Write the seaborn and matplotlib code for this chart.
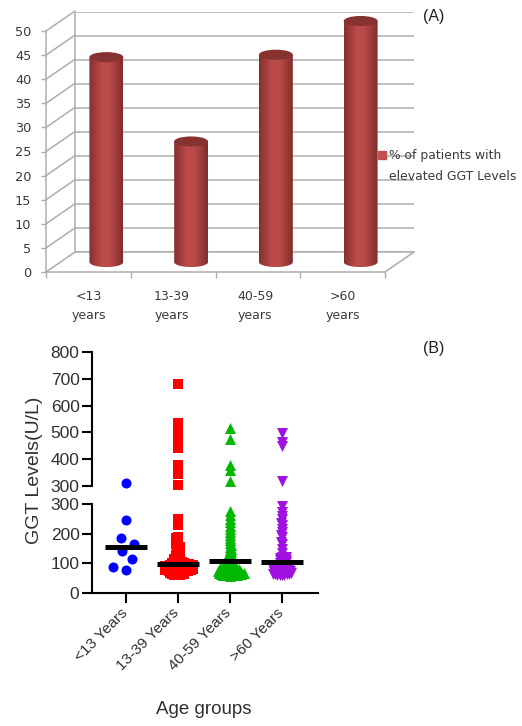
import numpy as np
import pandas as pd
import matplotlib
matplotlib.use("Agg")
import matplotlib.pyplot as plt
from matplotlib.collections import PathCollection
from matplotlib.colors import LinearSegmentedColormap, to_rgba
from matplotlib.lines import Line2D
from matplotlib.patches import Ellipse
from matplotlib.path import Path
from matplotlib.transforms import ScaledTranslation
import seaborn as sns

# ---------- data ----------
age_a = ["<13\nyears", "13-39\nyears", "40-59\nyears", ">60\nyears"]
pct_elevated = [42.5, 25, 43, 50]
age_b = ["<13 Years", "13-39 Years", "40-59 Years", ">60 Years"]
ggt_u13 = [312, 246, 185, 165, 143, 115, 88, 78]
ggt_13_39 = [60, 60, 61, 62, 63, 64, 65, 66, 67, 68, 69, 70, 71, 72, 72, 73, 74, 74, 75, 75, 76, 76,
             77, 77, 78, 78, 79, 79, 80, 80, 81, 81, 82, 82, 83, 83, 84, 84, 85, 85, 86, 86, 87, 87,
             88, 88, 89, 89, 90, 90, 91, 91, 92, 92, 93, 93, 94, 94, 95, 95, 96, 97, 97, 98, 99, 100,
             101, 102, 103, 104, 106, 108, 110, 112, 114, 116, 118, 120, 122, 125, 128, 130, 133,
             136, 140, 143, 146, 150, 153, 156, 160, 165, 170, 175, 180, 185, 190, 230, 250,
             305, 345, 365, 380, 440, 460, 480, 515, 535, 680]
ggt_40_59 = [58, 59, 60, 60, 61, 62, 62, 63, 64, 64, 65, 66, 66, 67, 68, 68, 69, 70, 70, 71, 72, 72,
             73, 74, 75, 75, 76, 77, 78, 79, 80, 80, 81, 82, 83, 84, 85, 86, 87, 88, 90, 92, 94, 96,
             98, 100, 102, 104, 106, 108, 110, 113, 116, 119, 122, 125, 130, 135, 140, 145, 150,
             155, 162, 170, 178, 186, 195, 205, 215, 225, 238, 250, 262, 277,
             319, 360, 378, 475, 516]
ggt_over60 = [60, 60, 61, 62, 63, 63, 64, 65, 66, 67, 68, 68, 69, 70, 71, 72, 73, 74, 75, 76, 77, 78,
              79, 80, 81, 82, 83, 84, 85, 86, 88, 90, 92, 94, 96, 98, 100, 102, 104, 106, 108, 110,
              112, 114, 116, 118, 120, 122, 135, 150, 165, 172, 190, 197, 205, 215, 228, 235, 250,
              258, 272, 294, 319, 449, 464, 497]
group_means = [155, 98, 108, 104]
group_values = [ggt_u13, ggt_13_39, ggt_40_59, ggt_over60]
group_colors = ["#0000ff", "#ff0000", "#00b800", "#a010e0"]
group_markers = ["o", "s", "^", "v"]
marker_areas = [52, 47, 62, 62]
swarm_sizes = [9, 1.5, 1.6, 1.6]

W, H = 522, 726
sns.set_theme(style="white")
plt.rcParams["font.family"] = ["Liberation Sans", "DejaVu Sans"]
fig = plt.figure(figsize=(W / 100, H / 100), dpi=100, facecolor="white")


def rect(x0, x1, y_top, y_bot):
    return [x0 / W, 1 - y_bot / H, (x1 - x0) / W, (y_bot - y_top) / H]


# ---------- panel A: fake 3D chart ----------
GRID = "#adadad"
TXT = "#3a3a3a"
cat = (385 - 46) / 4
unit = 241 / 50

back = fig.add_axes(rect(75, 414, 12, 252))
back.set_xlim(-.5, 3.5)
back.set_ylim(0, 50)
back.set_yticks(np.arange(0, 55, 5))
back.set_xticks([])
back.set_yticklabels([])
back.tick_params(left=False)
back.grid(axis="y", color=GRID, lw=1.1)
sns.despine(ax=back, top=True, right=True)
for s in ("left", "bottom"):
    back.spines[s].set_color(GRID)
    back.spines[s].set_linewidth(1.1)
back.patch.set_alpha(0)

front = fig.add_axes(rect(46, 385, 31, 272))
front.set_xlim(-.5, 3.5)
front.set_ylim(0, 50)
front.patch.set_alpha(0)
sns.despine(ax=front, top=True, right=True)
for s in ("left", "bottom"):
    front.spines[s].set_color(GRID)
    front.spines[s].set_linewidth(1.1)
front.set_yticks(np.arange(0, 55, 5))
front.set_xticks(np.array([0, .98, 1.97, 3.0]))
front.set_xticklabels(age_a, fontsize=9, color=TXT, family="DejaVu Sans", linespacing=1.6)
front.tick_params(axis="y", labelsize=9.3, labelcolor=TXT, length=3.5, width=1, color=GRID, pad=7, left=True)
for lab in front.get_yticklabels():
    lab.set_family("DejaVu Sans")
front.tick_params(axis="x", length=0, pad=13, bottom=False)
front.set_xticks(np.arange(-.5, 4, 1), minor=True)
front.tick_params(axis="x", which="minor", length=4, width=1, color=GRID, bottom=True)
dx, dy = 29 / cat, 20 / unit
for v in np.arange(0, 55, 5):
    front.plot([-.5, -.5 + dx], [v, v + dy], color=GRID, lw=1.1, clip_on=False)
front.plot([3.5, 3.5 + dx], [0, dy], color=GRID, lw=1.1, clip_on=False)

y0_px = 262
bars = fig.add_axes(rect(64, 403, y0_px - 53 * unit, y0_px + 3 * unit))
bars.patch.set_alpha(0)
df_a = pd.DataFrame({"age": age_a, "pct": pct_elevated})
sns.barplot(data=df_a, x="age", y="pct", color="#b04543", saturation=1, width=.4, ax=bars, zorder=2)
bars.axis("off")
cyl = LinearSegmentedColormap.from_list("cyl", ["#85302e", "#a33f3d", "#bc4c4a", "#b84a48", "#a03d3b", "#7f2d2b"])
grad = np.linspace(0, 1, 64)[None, :]
eh = 1.05
for p in bars.patches:
    x0, w, h = p.get_x(), p.get_width(), p.get_height()
    t = np.linspace(np.pi, 2 * np.pi, 40)
    xs = np.r_[x0 + w / 2 + w / 2 * np.cos(t), x0 + w, x0]
    ys = np.r_[eh * np.sin(t), h, h]
    clip = Path(np.c_[np.r_[xs, xs[0]], np.r_[ys, ys[0]]], closed=True)
    p.set_visible(False)
    im = bars.imshow(grad, extent=(x0, x0 + w, -eh, h), aspect="auto", cmap=cyl, zorder=3)
    im.set_clip_path(clip, transform=bars.transData)
    bars.add_patch(Ellipse((x0 + w / 2, h), w, 2 * eh, color="#863230", lw=0, zorder=4))
bars.set_xlim(-.5, 3.5)
bars.set_ylim(-3, 53)

handle = Line2D([], [], ls="", marker="s", ms=5.5, color="#c0504d")
blank = Line2D([], [], ls="", marker="")
fig.legend([handle, blank], ["% of patients with", "elevated GGT Levels"], loc="upper left",
           bbox_to_anchor=(378 / W, 1 - 149 / H), frameon=False, handlelength=.6, handletextpad=.25,
           labelspacing=.62, borderpad=0, borderaxespad=0,
           prop={"family": "DejaVu Sans", "size": 8.9}, labelcolor=TXT)
fig.text(434 / W, 1 - 17 / H, "(A)", fontsize=11.5, color="#222222", ha="center", va="center")
fig.text(434 / W, 1 - 349 / H, "(B)", fontsize=11.5, color="#222222", ha="center", va="center")

# ---------- panel B: broken-axis scatter ----------
df_b = pd.concat([pd.DataFrame({"age": a, "ggt": v}) for a, v in zip(age_b, group_values)], ignore_index=True)
xl = (-(126 - 92) / 52, (318 - 126) / 52)
top = fig.add_axes(rect(92, 318, 352, 486))
low = fig.add_axes(rect(92, 318, 504, 593))
for ax, data, lim in ((top, df_b[df_b.ggt > 300], (300, 800)), (low, df_b[df_b.ggt <= 300], (0, 300))):
    for a, col, mk, sz in zip(age_b, group_colors, group_markers, swarm_sizes):
        sub = data[data.age == a]
        sns.swarmplot(data=sub, x="age", y="ggt", order=age_b, color=col, marker=mk, size=sz,
                      linewidth=0, ax=ax, warn_thresh=1, zorder=3)
    ax.set_xlim(*xl)
    ax.set_ylim(*lim)
    ax.set_xlabel("")
    ax.set_ylabel("")
    sns.despine(ax=ax, top=True, right=True)
    ax.spines["left"].set_linewidth(1.5)
    ax.spines["left"].set_color("black")
    ax.tick_params(axis="y", left=True, length=7, width=1.5, color="black",
                   labelsize=12.5, labelcolor="#303030", pad=2)
top.set_yticks(np.arange(300, 900, 100))
low.set_yticks(np.arange(0, 400, 100))
top.spines["bottom"].set_visible(False)
top.set_xticks([])
low.spines["bottom"].set_linewidth(1.5)
low.spines["bottom"].set_color("black")
low.set_xticks(range(4))
low.set_xticklabels(age_b, rotation=45, ha="right", rotation_mode="anchor", fontsize=11, color="#303030")
low.tick_params(axis="x", bottom=True, length=7, width=1.5, color="black", pad=2)
shift = ScaledTranslation(-6 / 100, 0, fig.dpi_scale_trans)
for lab in low.get_xticklabels():
    lab.set_transform(lab.get_transform() + shift)
low.hlines(group_means, np.arange(4) - .41, np.arange(4) + .41, color="black", lw=3.6, zorder=5)
fig.text(35 / W, 1 - 470 / H, "GGT Levels(U/L)", rotation=90, fontsize=14, color="#303030", ha="center", va="center")
fig.text(204 / W, 1 - 710 / H, "Age groups", fontsize=13.5, color="#303030", ha="center", va="center")

# Freeze the swarm layout, then enlarge markers so the dense part overlaps as in the reference.
fig.canvas.draw()
area_by_color = {to_rgba(c): a for c, a in zip(group_colors, marker_areas)}
for ax in (top, low):
    for coll in ax.collections:
        if not isinstance(coll, PathCollection) or len(coll.get_offsets()) == 0:
            continue
        coll.__dict__.pop("draw", None)
        coll.set_sizes([area_by_color[tuple(coll.get_facecolor()[0])]])
        coll.set_clip_on(False)

fig.savefig("out.png", dpi=100, facecolor="white")
